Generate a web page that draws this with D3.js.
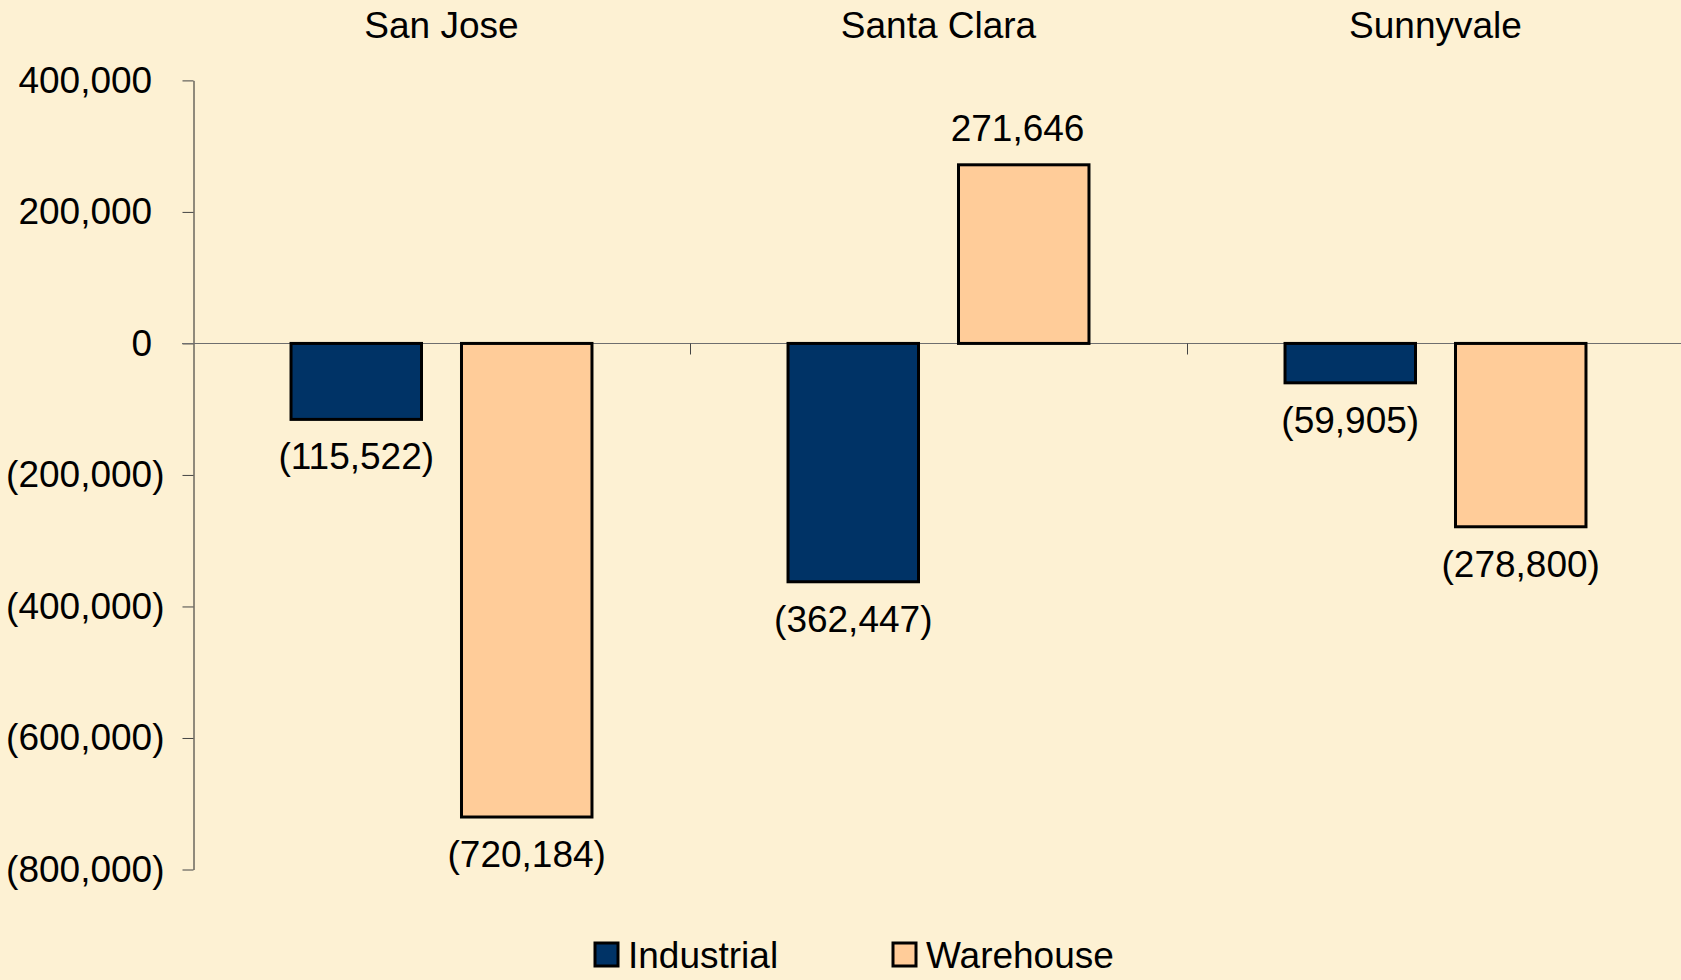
<!DOCTYPE html>
<html>
<head>
<meta charset="utf-8">
<script src="https://cdn.jsdelivr.net/npm/d3@7"></script>
<style>
    html, body { margin: 0; padding: 0; background: #fdf1d3; }
    svg { display: block; font-family: "Liberation Sans", Arial, sans-serif; }
</style>
</head>
<body>
<svg id="chart" width="1681" height="980"></svg>
<script>

// Chart data
const categories = ["San Jose", "Santa Clara", "Sunnyvale"];
const seriesNames = ["Industrial", "Warehouse"];
const industrialValues = [-115522, -362447, -59905];
const warehouseValues = [-720184, 271646, -278800];
const yTicks = [400000, 200000, 0, -200000, -400000, -600000, -800000];

const seriesColors = ["#003366", "#ffcc99"];
const fontSize = 37;

const width = 1681;
const height = 980;

const svg = d3.select("#chart");

svg.append("rect")
    .attr("width", width)
    .attr("height", height)
    .attr("fill", "#fdf1d3");

// Build rows from the named arrays.
const rows = categories.map((c, i) => ({
    category: c,
    values: [
        { series: seriesNames[0], value: industrialValues[i] },
        { series: seriesNames[1], value: warehouseValues[i] }
    ]
}));

// Scales
const y = d3.scaleLinear()
    .domain([-800000, 400000])
    .range([869.5, 80.4]);

const x0 = d3.scaleBand()
    .domain(categories)
    .range([193, 193 + 3 * 497]);

const x1 = d3.scaleBand()
    .domain(seriesNames)
    .range([0, x0.bandwidth()])
    .paddingInner(0.2346)
    .paddingOuter(0.575);

const color = d3.scaleOrdinal().domain(seriesNames).range(seriesColors);

// Excel style number format: negatives in parens, positives padded by ")".
const fmt = v => v < 0 ? `(${d3.format(",")(-v)})` : d3.format(",")(v);

// Y axis
const yAxis = svg.append("g")
    .attr("transform", "translate(193.5,0)")
    .call(d3.axisLeft(y)
        .tickValues(yTicks)
        .tickSize(11)
        .tickSizeOuter(0)
        .tickPadding(18)
        .tickFormat(fmt));

yAxis.select(".domain").attr("stroke", "#222").attr("stroke-width", 1);
yAxis.selectAll(".tick line").attr("stroke", "#444");
yAxis.selectAll(".tick text")
    .attr("fill", "#000")
    .style("font-size", fontSize + "px")
    .style("font-family", "'Liberation Sans', Arial, sans-serif")
    .attr("dx", d => d >= 0 ? "-0.333em" : null);

// Zero line with category separator ticks
const zeroY = Math.round(y(0)) + 0.5;
svg.append("line")
    .attr("x1", 182)
    .attr("x2", width)
    .attr("y1", zeroY)
    .attr("y2", zeroY)
    .attr("stroke", "#6e6e6e")
    .attr("stroke-width", 1);

svg.append("g")
    .selectAll("line")
    .data(categories.slice(1))
    .join("line")
        .attr("x1", d => Math.round(x0(d)) + 0.5)
        .attr("x2", d => Math.round(x0(d)) + 0.5)
        .attr("y1", zeroY)
        .attr("y2", zeroY + 11)
        .attr("stroke", "#444");

// Category titles on top
svg.append("g")
    .selectAll("text")
    .data(categories)
    .join("text")
        .attr("x", d => x0(d) + x0.bandwidth() / 2)
        .attr("y", 24.7)
        .attr("dy", "0.35em")
        .attr("text-anchor", "middle")
        .style("font-size", fontSize + "px")
        .text(d => d);

// Bars
const groups = svg.append("g")
    .selectAll("g")
    .data(rows)
    .join("g")
        .attr("transform", d => `translate(${x0(d.category)},0)`);

groups.selectAll("rect")
    .data(d => d.values)
    .join("rect")
        .attr("x", d => x1(d.series))
        .attr("y", d => Math.min(y(d.value), y(0)))
        .attr("width", x1.bandwidth())
        .attr("height", d => Math.abs(y(d.value) - y(0)))
        .attr("fill", d => color(d.series))
        .attr("stroke", "#000")
        .attr("stroke-width", 3);

// Value labels
groups.selectAll("text")
    .data(d => d.values)
    .join("text")
        .attr("x", d => x1(d.series) + x1.bandwidth() / 2)
        .attr("y", d => d.value >= 0 ? y(d.value) - 37 : y(d.value) + 37)
        .attr("dx", d => d.value >= 0 ? "-0.1665em" : null)
        .attr("dy", "0.35em")
        .attr("text-anchor", "middle")
        .style("font-size", fontSize + "px")
        .text(d => fmt(d.value));

// Legend
const legendX = [595, 893];
const legend = svg.append("g")
    .selectAll("g")
    .data(seriesNames)
    .join("g")
        .attr("transform", (d, i) => `translate(${legendX[i]},955)`);

legend.append("rect")
    .attr("x", 0)
    .attr("y", -12)
    .attr("width", 23)
    .attr("height", 23)
    .attr("fill", d => color(d))
    .attr("stroke", "#000")
    .attr("stroke-width", 3);

legend.append("text")
    .attr("x", 33)
    .attr("y", 0)
    .attr("dy", "0.35em")
    .style("font-size", fontSize + "px")
    .text(d => d);

</script>
</body>
</html>
